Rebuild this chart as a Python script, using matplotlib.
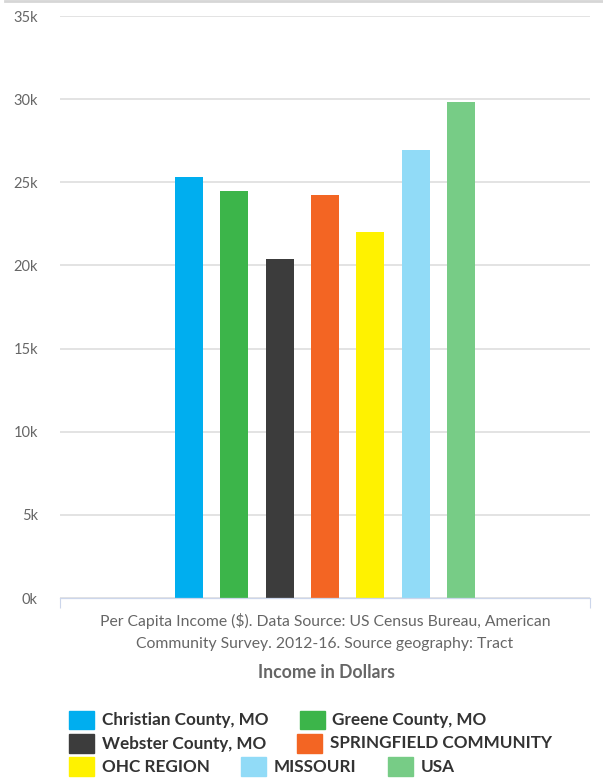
import matplotlib.pyplot as plt
import matplotlib.patches as mpatches
from matplotlib.lines import Line2D

names = ["Christian County, MO", "Greene County, MO", "Webster County, MO",
         "SPRINGFIELD COMMUNITY", "OHC REGION", "MISSOURI", "USA"]
income = [25300, 24450, 20400, 24250, 22000, 26950, 29800]
colors = ["#00aeef", "#3cb54a", "#3c3c3c", "#f36523", "#fff200", "#91dbf7", "#77cc86"]
yticks = [0, 5000, 10000, 15000, 20000, 25000, 30000, 35000]
ytick_labels = ["0k", "5k", "10k", "15k", "20k", "25k", "30k", "35k"]
legend_rows = [[0, 1], [2, 3], [4, 5, 6]]
caption = ("Per Capita Income ($). Data Source: US Census Bureau, American\n"
           "Community Survey. 2012-16. Source geography: Tract")
xtitle = "Income in Dollars"

W, H = 603, 779
plt.rcParams['font.family'] = ['Lato', 'DejaVu Sans']
fig = plt.figure(figsize=(W / 100, H / 100), dpi=100)

def fx(px):
    return px / W

def fy(py):
    return 1 - py / H

ax = fig.add_axes([fx(60), fy(598), fx(590) - fx(60), fy(16) - fy(598)])

step = 0.0855
width = 0.0528
n = len(income)
for i in range(n):
    ax.bar((i - (n - 1) / 2) * step, income[i], width=width, color=colors[i], zorder=3)

ax.set_xlim(-0.5, 0.5)
ax.set_ylim(0, 35000)
ax.set_yticks(yticks)
ax.set_yticklabels(ytick_labels, fontsize=10.5, color="#666666")
ax.tick_params(axis="y", length=0, pad=16)
ax.set_xticks([-0.5, 0.5])
ax.set_xticklabels(["", ""])
ax.tick_params(axis="x", length=7.5, width=0.8, color="#ccd6eb")
ax.grid(True, axis="y", color="#e0e0e0", linewidth=1.3, zorder=0)
for s in ["left", "right", "top"]:
    ax.spines[s].set_visible(False)
ax.spines["bottom"].set_color("#ccd6eb")
ax.spines["bottom"].set_linewidth(0.9)
ax.spines["bottom"].set_zorder(4)

# top border line
fig.add_artist(Line2D([fx(5), 1], [fy(1.2), fy(1.2)], color="#d6d6d6", linewidth=2))

fig.text(fx(325), fy(632), caption, ha="center", va="center", fontsize=11.3,
         color="#666666", linespacing=1.68, multialignment="center")
fig.text(fx(326), fy(672), xtitle, ha="center", va="center", fontsize=12.7,
         color="#666666", fontweight="bold")

# legend, flow layout
renderer = fig.canvas.get_renderer()
row_y = [720, 743.5, 766.5]
for r, row in enumerate(legend_rows):
    x = 69
    for i in row:
        fig.add_artist(mpatches.Rectangle((fx(x), fy(row_y[r] + 9)), fx(25), 18.5 / H,
                                          color=colors[i], transform=fig.transFigure))
        t = fig.text(fx(x + 33), fy(row_y[r]), names[i], ha="left", va="center",
                     fontsize=12.3, fontweight="bold", color="#333333")
        tw = t.get_window_extent(renderer).width
        x = x + 33 + tw + 31

fig.savefig("out.png", dpi=100)
